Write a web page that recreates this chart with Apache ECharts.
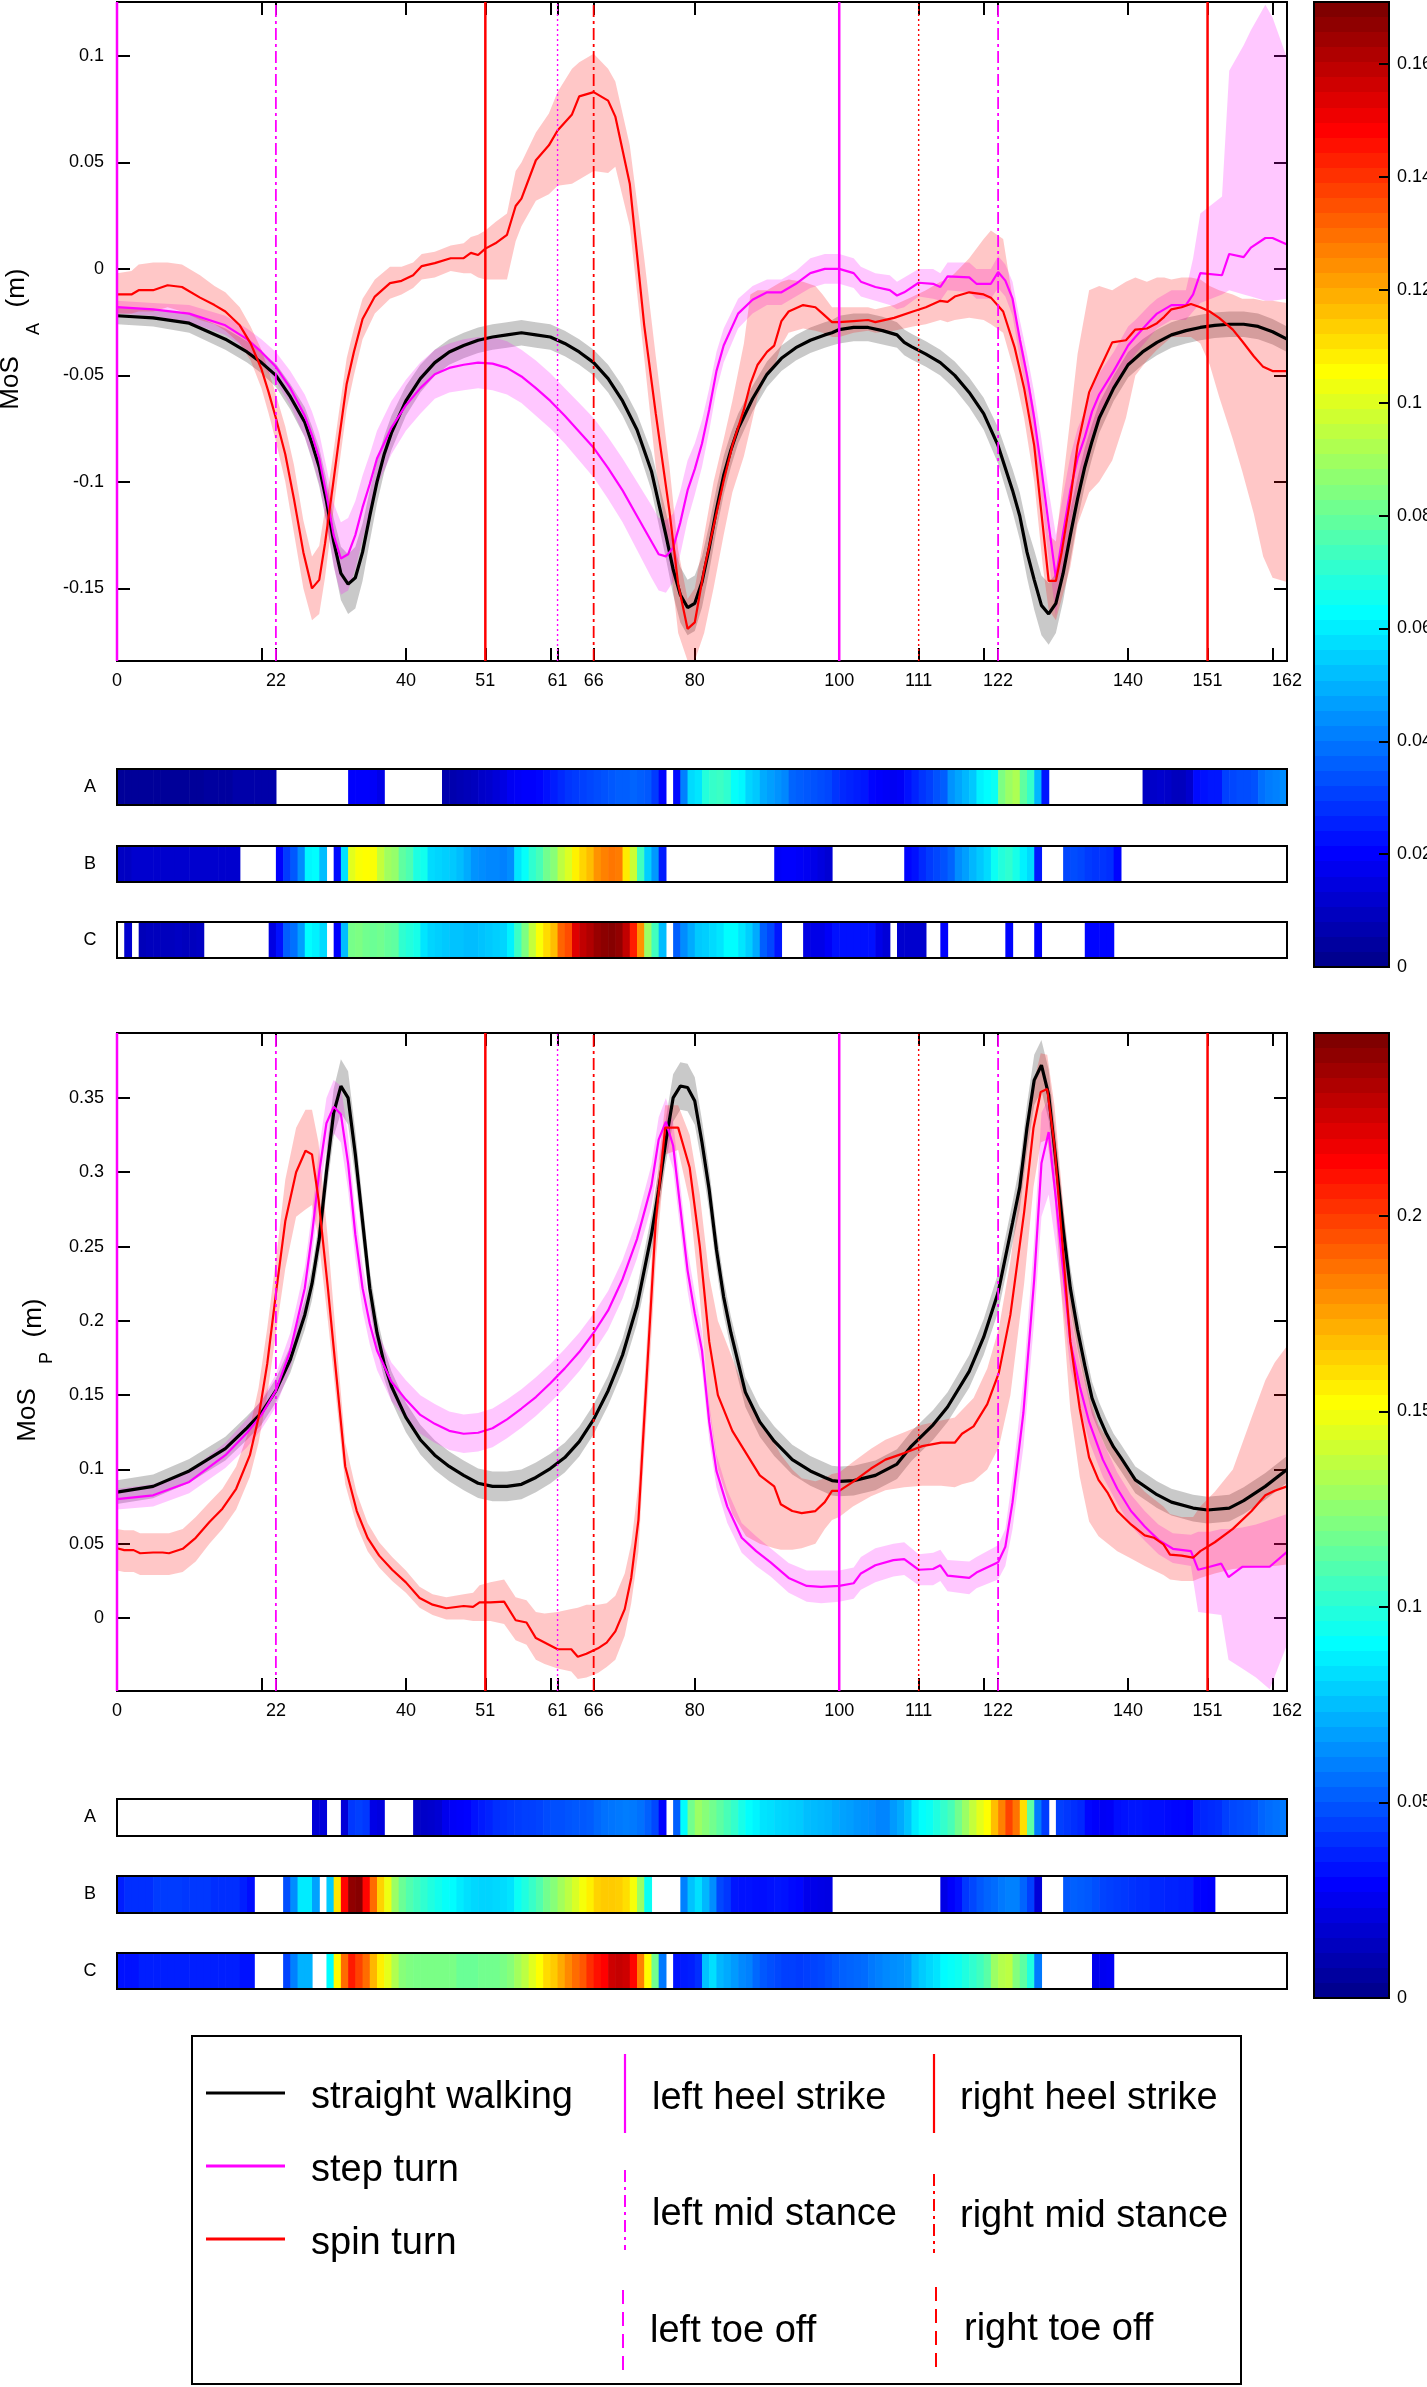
<!DOCTYPE html>
<html>
<head>
<meta charset="utf-8">
<script src="https://cdn.jsdelivr.net/npm/echarts@6/dist/echarts.min.js"></script>
<style>html,body{margin:0;padding:0;background:#fff}#c{width:1427px;height:2387px}</style>
</head>
<body>
<div id="c"></div>
<script>
// ---------------- DATA ----------------
const seriesNames = ['straight walking', 'step turn', 'spin turn'];
const eventNames = ['left heel strike', 'left mid stance', 'left toe off', 'right heel strike', 'right mid stance', 'right toe off'];
const xLabelVals = [0, 22, 40, 51, 61, 66, 80, 100, 111, 122, 140, 151, 162];
const xTickVals = [0, 20, 22, 40, 51, 60, 61, 66, 80, 100, 111, 120, 122, 140, 151, 160, 162];
const topYTicks = [-0.15, -0.1, -0.05, 0, 0.05, 0.1];
const botYTicks = [0, 0.05, 0.1, 0.15, 0.2, 0.25, 0.3, 0.35];
const topCbTicks = [0, 0.02, 0.04, 0.06, 0.08, 0.1, 0.12, 0.14, 0.16];
const botCbTicks = [0, 0.05, 0.1, 0.15, 0.2];
const stripLabels = ['A', 'B', 'C'];

// gait events
const eventX = [0, 22, 51, 61, 66, 100, 111, 122, 151];
const eventSide = ['left', 'left', 'right', 'left', 'right', 'left', 'right', 'left', 'right'];
const eventPhase = ['heel', 'mid', 'heel', 'toe', 'mid', 'heel', 'toe', 'mid', 'heel'];

// ---- MoS_A (top) ----
const topBlackX = [0,5,10,15,18,20,22,24,26,27,28,29,30,31,32,33,34,35,36,37,38,40,42,44,46,48,50,52,54,56,58,60,62,64,66,68,70,72,74,76,77,78,79,80,81,82,83,84,85,86,88,90,92,94,96,98,99,100,102,104,106,108,109,110,112,114,116,118,120,122,124,125,126,127,128,129,130,131,132,133,134,135,136,138,140,142,144,146,148,150,152,154,156,158,160,162];
const topBlackMean = [-0.022,-0.023,-0.0255,-0.033,-0.039,-0.044,-0.050,-0.060,-0.072,
 -0.082,-0.093,-0.109,-0.128,-0.143,-0.148,-0.145,-0.133,-0.116,-0.100,-0.087,-0.077,
 -0.062,-0.0515,-0.044,-0.039,-0.036,-0.0335,-0.032,-0.031,-0.030,-0.031,-0.032,-0.035,-0.039,-0.044,-0.0515,-0.062,-0.0755,-0.095,
 -0.125,-0.141,-0.153,-0.159,-0.157,-0.147,-0.131,-0.113,-0.097,-0.085,-0.075,
 -0.061,-0.0495,-0.042,-0.037,-0.0335,-0.031,-0.030,
 -0.0285,-0.0275,-0.0275,-0.029,-0.031,-0.0345,
 -0.0365,-0.040,-0.044,-0.050,-0.058,-0.068,-0.083,-0.104,
 -0.116,-0.133,-0.146,-0.158,-0.162,-0.157,-0.143,-0.125,-0.108,-0.093,-0.081,-0.070,
 -0.056,-0.045,-0.039,-0.0345,-0.031,-0.029,-0.0275,-0.0265,-0.026,-0.026,-0.027,-0.0295,-0.033];
const topBlackSd = [0.004,0.004,0.0045,0.005,0.005,0.005,0.0055,0.006,0.007,
 0.008,0.009,0.010,0.011,0.0125,0.014,0.0145,0.0135,0.012,0.010,0.0085,0.008,
 0.007,0.0065,0.006,0.006,0.006,0.006,0.006,0.006,0.006,0.006,0.006,0.006,0.006,0.006,0.0065,0.007,0.0075,0.009,
 0.011,0.012,0.013,0.013,0.013,0.012,0.011,0.010,0.009,0.008,0.007,
 0.006,0.006,0.006,0.006,0.006,0.006,0.006,
 0.0065,0.0065,0.0065,0.0065,0.006,0.006,
 0.006,0.006,0.006,0.0065,0.007,0.0075,0.0085,0.010,
 0.011,0.012,0.014,0.014,0.0145,0.014,0.013,0.012,0.010,0.009,0.008,0.007,
 0.006,0.006,0.006,0.006,0.006,0.006,0.006,0.006,0.006,0.006,0.006,0.006,0.006];

const topStepX = [0,5,10,15,18,20,22,24,26,27,28,29,30,31,32,33,34,35,36,38,40,42,44,46,48,50,52,54,56,58,60,62,64,66,68,70,72,74,75,76,77,78,79,80,81,82,83,84,86,88,90,92,94,96,98,100,102,103,105,107,108,109,111,113,114,115,118,119,121,122,123,124,125,126,127,128,129,130,131,132,133,134,135,136,138,140,141,143,144,146,148,149,150,153,154,156,157,159,160,162];
const topStepMean = [-0.018,-0.019,-0.021,-0.0265,-0.033,-0.039,-0.046,-0.056,-0.069,
 -0.078,-0.089,-0.106,-0.125,-0.136,-0.134,-0.125,-0.112,-0.101,-0.089,
 -0.0745,-0.064,-0.056,-0.0495,-0.0465,-0.045,-0.044,-0.0445,-0.0465,-0.0505,-0.056,-0.062,-0.069,-0.0765,-0.084,-0.0935,-0.104,-0.116,-0.128,
 -0.134,-0.135,-0.131,-0.119,-0.104,-0.094,-0.082,-0.066,-0.048,-0.036,
 -0.021,-0.0145,-0.011,-0.011,-0.007,-0.002,0.0,0.0,
 -0.002,-0.006,-0.0085,-0.010,-0.0125,-0.011,-0.0065,-0.007,-0.0085,-0.0035,
 -0.004,-0.007,-0.007,-0.0015,-0.0055,-0.014,-0.033,-0.050,-0.070,-0.094,
 -0.120,-0.145,-0.124,-0.104,-0.089,-0.079,-0.067,-0.059,-0.048,-0.036,
 -0.032,-0.0245,-0.021,-0.017,-0.017,-0.012,-0.002,-0.003,0.007,0.0055,
 0.010,0.0145,0.0145,0.0115];
const topStepLo = [-0.021,-0.022,-0.025,-0.031,-0.038,-0.045,-0.053,-0.064,-0.079,
 -0.089,-0.101,-0.119,-0.140,-0.153,-0.151,-0.141,-0.127,-0.115,-0.102,
 -0.087,-0.076,-0.068,-0.061,-0.058,-0.057,-0.056,-0.057,-0.059,-0.063,-0.069,-0.075,-0.082,-0.090,-0.098,-0.108,-0.119,-0.132,-0.145,
 -0.151,-0.152,-0.147,-0.134,-0.118,-0.106,-0.093,-0.076,-0.057,-0.044,
 -0.028,-0.021,-0.017,-0.017,-0.013,-0.009,-0.007,-0.007,
 -0.009,-0.013,-0.015,-0.017,-0.019,-0.018,-0.013,-0.014,-0.015,-0.010,
 -0.011,-0.014,-0.014,-0.009,-0.013,-0.022,-0.042,-0.060,-0.082,-0.108,
 -0.136,-0.163,-0.142,-0.120,-0.103,-0.091,-0.078,-0.069,-0.057,-0.045,
 -0.040,-0.032,-0.028,-0.024,-0.024,-0.020,-0.016,-0.012,-0.010,-0.012,
 -0.013,-0.015,-0.015,-0.014];
const topStepHi = [-0.015,-0.016,-0.017,-0.022,-0.028,-0.033,-0.039,-0.048,-0.059,
 -0.067,-0.077,-0.093,-0.110,-0.119,-0.117,-0.109,-0.097,-0.087,-0.076,
 -0.062,-0.052,-0.044,-0.038,-0.035,-0.033,-0.032,-0.032,-0.034,-0.038,-0.043,-0.049,-0.056,-0.063,-0.070,-0.079,-0.089,-0.100,-0.111,
 -0.117,-0.118,-0.115,-0.104,-0.090,-0.082,-0.071,-0.056,-0.039,-0.028,
 -0.014,-0.008,-0.005,-0.005,-0.001,0.005,0.007,0.007,
 0.005,0.001,-0.002,-0.003,-0.006,-0.004,0.000,0.000,-0.002,0.003,
 0.003,0.000,0.000,0.006,0.002,-0.006,-0.024,-0.040,-0.058,-0.080,
 -0.104,-0.125,-0.106,-0.088,-0.075,-0.067,-0.056,-0.049,-0.039,-0.027,
 -0.024,-0.017,-0.014,-0.010,-0.010,0.005,0.026,0.034,0.093,0.105,
 0.112,0.124,0.118,0.099];

const topSpinX = [0,2,3,5,7,9,11.5,13.5,15,17,18.5,20,21,22,23.3,24.5,25.8,27,28,28.8,29.8,30.7,31.8,32.8,34,35.7,37.8,39.4,41,42.2,44,46.2,48,49,50,51,52.4,54,55.2,56,58,59.8,61,63,64,66,68,69,71,73,74.6,76.5,77.7,79,80,81.3,82.6,84,85.2,86.8,87.7,88.7,90,91,92,93,95,96.7,97.7,99,100,102,104,105,107.6,110.2,112,114,115,116,118,120,121,122.7,124.3,125.6,127,128.2,129,130,130.8,132,133,134.6,136,137.8,139.7,141,142.6,144,145,146,147.4,148.7,150,151.3,152.6,154.5,155.8,157.4,158.7,160,162];
const topSpinMean = [-0.012,-0.012,-0.010,-0.010,-0.0077,-0.0085,
 -0.0135,-0.017,-0.020,-0.0265,-0.035,-0.047,-0.058,-0.070,
 -0.087,-0.108,-0.133,-0.150,-0.146,-0.129,-0.104,-0.081,-0.054,-0.039,
 -0.0235,-0.013,-0.0067,-0.0056,-0.003,0.0013,0.0027,0.005,0.005,0.0075,
 0.0065,0.0095,0.012,0.016,0.0295,0.033,0.051,0.058,0.065,0.0725,
 0.081,0.083,0.079,0.0715,0.040,-0.0265,-0.068,-0.114,-0.148,-0.169,
 -0.166,-0.141,-0.121,-0.0995,-0.083,-0.066,-0.054,-0.045,-0.039,-0.036,
 -0.0245,-0.020,-0.017,-0.018,-0.021,-0.025,-0.025,-0.0245,-0.024,-0.025,
 -0.023,-0.020,-0.018,-0.015,-0.0155,-0.013,-0.011,-0.012,-0.0135,-0.020,
 -0.037,-0.056,-0.083,-0.121,-0.1465,-0.1465,-0.133,-0.108,-0.083,-0.058,
 -0.0475,-0.0345,-0.0335,-0.0285,-0.028,-0.0255,-0.0225,-0.019,-0.018,-0.0165,
 -0.018,-0.020,-0.023,-0.0285,-0.034,-0.041,-0.046,-0.048,-0.048];
const topSpinLo = [-0.021,-0.021,-0.020,-0.020,-0.018,-0.020,
 -0.024,-0.026,-0.029,-0.035,-0.043,-0.056,-0.068,-0.081,
 -0.100,-0.124,-0.150,-0.165,-0.162,-0.145,-0.118,-0.094,-0.066,-0.050,
 -0.033,-0.021,-0.014,-0.012,-0.009,-0.005,-0.004,-0.001,-0.002,-0.002,
 -0.004,-0.005,-0.005,-0.005,0.013,0.020,0.032,0.035,0.039,0.040,
 0.042,0.046,0.045,0.048,0.020,-0.042,-0.093,-0.135,-0.171,-0.184,
 -0.184,-0.171,-0.150,-0.125,-0.105,-0.088,-0.075,-0.060,-0.050,-0.046,
 -0.036,-0.030,-0.028,-0.029,-0.030,-0.032,-0.032,-0.030,-0.029,-0.030,
 -0.029,-0.027,-0.026,-0.024,-0.025,-0.024,-0.023,-0.024,-0.026,-0.030,
 -0.049,-0.070,-0.100,-0.140,-0.160,-0.165,-0.155,-0.140,-0.120,-0.105,
 -0.100,-0.090,-0.070,-0.050,-0.043,-0.038,-0.035,-0.032,-0.032,-0.032,
 -0.035,-0.045,-0.060,-0.080,-0.095,-0.115,-0.135,-0.145,-0.147];
const topSpinHi = [-0.002,-0.001,0.002,0.003,0.003,0.002,
 -0.003,-0.008,-0.011,-0.018,-0.027,-0.038,-0.048,-0.059,
 -0.074,-0.092,-0.118,-0.135,-0.130,-0.113,-0.090,-0.068,-0.042,-0.028,
 -0.014,-0.005,0.001,0.001,0.003,0.007,0.008,0.011,0.012,0.015,
 0.016,0.018,0.022,0.026,0.046,0.050,0.064,0.073,0.083,0.094,
 0.097,0.101,0.094,0.088,0.058,0.005,-0.041,-0.093,-0.132,-0.155,
 -0.150,-0.125,-0.100,-0.080,-0.062,-0.035,-0.012,-0.010,-0.010,-0.008,
 -0.006,-0.005,-0.006,-0.008,-0.012,-0.018,-0.018,-0.018,-0.018,-0.019,
 -0.017,-0.013,-0.010,-0.006,-0.005,-0.002,0.005,0.014,0.018,0.014,
 -0.020,-0.040,-0.066,-0.102,-0.125,-0.128,-0.105,-0.070,-0.040,-0.010,
 -0.008,-0.010,-0.006,-0.004,-0.006,-0.004,-0.004,-0.005,-0.004,-0.004,
 -0.005,-0.008,-0.010,-0.012,-0.014,-0.014,-0.015,-0.015,-0.016];

// ---- MoS_P (bottom) ----
const botBlackX = [0,5,10,15,18,20,22,24,26,27,28,29,30,31,32,33,34,35,36,37,38,40,42,44,46,48,50,52,54,56,58,60,62,64,66,68,70,72,74,75,76,77,78,79,80,81,82,83,84,85,86,87,89,91,93.5,96,98,99,100,102,105,108,110,113,115,118,120,122,124,125,126,127,128,129,130,131,132,133,134,135,136,137,138,139,141,144,146,149,151,154,156,159,162];
const botBlackMean = [0.0847,0.0886,0.099,0.114,0.128,0.138,0.153,0.174,0.204,
 0.225,0.255,0.300,0.340,0.358,0.350,0.312,0.267,0.222,0.192,0.171,0.156,
 0.135,0.120,0.1096,0.102,0.096,0.0907,0.0886,0.0886,0.090,0.0946,0.1006,0.108,0.1187,0.1337,0.153,0.177,0.210,0.258,
 0.288,0.321,0.350,0.358,0.357,0.348,0.320,0.288,0.248,0.216,0.192,0.172,0.152,
 0.132,0.119,0.1066,0.099,0.0946,0.0925,0.092,0.0925,0.096,0.1036,
 0.1157,0.130,0.142,0.166,0.189,0.219,0.266,
 0.290,0.330,0.362,0.372,0.352,0.308,0.262,0.222,0.194,0.170,0.148,0.135,0.124,0.115,0.108,
 0.093,0.083,0.078,0.074,0.0727,0.074,0.079,0.0886,0.100];
const botBlackSd = [0.008,0.008,0.008,0.008,0.008,0.008,0.008,0.009,0.010,
 0.011,0.012,0.014,0.016,0.018,0.018,0.016,0.014,0.012,0.011,0.010,0.010,
 0.010,0.010,0.010,0.010,0.010,0.010,0.010,0.010,0.010,0.010,0.010,0.010,0.010,0.010,0.010,0.011,0.012,0.013,
 0.014,0.015,0.016,0.016,0.016,0.016,0.015,0.014,0.013,0.012,0.011,0.011,0.010,
 0.010,0.010,0.010,0.010,0.010,0.010,0.010,0.010,0.010,0.010,
 0.010,0.010,0.010,0.011,0.012,0.013,0.014,
 0.015,0.016,0.017,0.017,0.017,0.016,0.015,0.014,0.013,0.012,0.011,0.010,0.010,0.009,0.009,
 0.009,0.009,0.009,0.009,0.009,0.009,0.009,0.009,0.009];

const botStepX = [0,5,10,15,18,20,22,24,26,27,28,29,30,31,32,33,34,35,36,38,40,42,44,46,48,50,52,54,56,58,60,62,64,66,68,70,72,74,75,76,77,78,79,80,81,82,83,84.5,86.5,88.5,90.5,93,95.5,97.5,100,102,103,105,107.5,109,111,113,114,115,118,119,122,123,124,125.5,127,128,129,130,131,132,133.3,134.6,136.5,138.5,140.4,142.3,144.2,146.2,148.7,149.7,151.3,152.9,153.9,155.8,157.7,159.6,162];
const botStepMean = [0.080,0.0826,0.0916,0.1096,0.1247,0.1367,0.153,0.180,0.222,
 0.258,0.300,0.333,0.344,0.339,0.306,0.258,0.222,0.198,0.180,
 0.159,0.147,0.1367,0.1307,0.126,0.124,0.1247,0.1277,0.1337,0.141,0.1487,0.158,0.168,0.179,0.192,0.207,0.228,0.255,0.291,
 0.322,0.334,0.318,0.276,0.234,0.205,0.180,0.132,0.099,
 0.075,0.054,0.045,0.0375,0.027,0.0216,0.021,0.0216,
 0.0234,0.030,0.0355,0.039,0.0397,0.0325,0.033,0.0355,0.0285,0.027,
 0.0306,0.0375,0.048,0.078,0.138,0.228,0.306,0.327,0.282,0.234,
 0.186,0.156,0.132,0.1066,0.087,0.072,0.0616,0.0526,0.0466,0.045,
 0.0325,0.0345,0.0366,0.0276,0.0345,0.0345,0.0345,0.0445];
const botStepLo = [0.073,0.075,0.084,0.101,0.115,0.127,0.142,0.168,0.208,
 0.243,0.284,0.316,0.326,0.320,0.288,0.242,0.207,0.184,0.167,
 0.146,0.134,0.124,0.118,0.113,0.111,0.112,0.115,0.121,0.128,0.136,0.145,0.155,0.166,0.179,0.194,0.215,0.242,0.277,
 0.307,0.318,0.302,0.261,0.220,0.192,0.167,0.120,0.088,
 0.064,0.044,0.035,0.028,0.017,0.011,0.010,0.011,
 0.013,0.019,0.024,0.028,0.029,0.022,0.022,0.025,0.018,0.016,
 0.020,0.026,0.035,0.060,0.115,0.200,0.270,0.285,0.250,0.210,
 0.168,0.142,0.119,0.095,0.077,0.062,0.052,0.043,0.037,0.035,
 0.004,0.003,0.002,-0.028,-0.034,-0.040,-0.048,-0.018];
const botStepHi = [0.087,0.090,0.099,0.118,0.134,0.147,0.164,0.192,0.236,
 0.273,0.316,0.350,0.362,0.358,0.324,0.274,0.237,0.212,0.193,
 0.172,0.160,0.150,0.144,0.139,0.137,0.138,0.141,0.147,0.154,0.162,0.171,0.181,0.192,0.205,0.220,0.241,0.268,0.305,
 0.337,0.350,0.334,0.291,0.248,0.219,0.193,0.144,0.110,
 0.086,0.064,0.055,0.047,0.037,0.032,0.032,0.032,
 0.034,0.041,0.047,0.050,0.051,0.043,0.044,0.046,0.039,0.038,
 0.041,0.049,0.060,0.095,0.160,0.255,0.340,0.350,0.310,0.258,
 0.205,0.171,0.146,0.119,0.098,0.083,0.072,0.063,0.057,0.056,
 0.058,0.058,0.060,0.060,0.061,0.063,0.066,0.070];

const botSpinX = [0,1,2.3,3.2,5,6.3,7.2,9.1,10.9,12.8,14.6,16.5,18.4,19.6,20.8,22.1,23.3,24.8,26.1,27,27.9,29.2,30.4,31.6,33.2,34.7,36.3,38.1,40,41.9,43.7,45.6,48,49.3,50.2,51.7,53.6,55.2,56.7,58,59.2,61,62.9,63.8,65,66.6,67.8,69,70.3,71.2,72.2,72.8,73.7,74.6,75.9,77.7,79.3,80.7,82,83.2,85.2,87.1,89,91,91.9,93.5,94.8,96.7,98,99,100,101.9,104.4,106.4,109,111.5,114.1,116,117,118.6,120.5,122.1,123.7,125.6,126.9,127.9,128.8,129.8,130.8,132,133.3,134.6,135.9,137.2,138.5,140.4,142.3,143.6,144.9,145.8,147.4,149,150,152,154.5,157.1,159,160.3,162];
const botSpinMean = [0.047,0.0457,0.0457,0.0436,0.0441,0.0441,0.0436,0.0466,0.054,0.0646,
 0.0736,0.087,0.1096,0.135,0.171,0.222,0.267,0.300,0.3145,0.312,
 0.282,0.222,0.162,0.102,0.072,0.054,0.042,0.0325,0.024,0.0135,
 0.009,0.0066,0.0081,0.0075,0.0105,0.0105,0.011,-0.0015,-0.003,-0.0135,
 -0.0165,-0.021,-0.021,-0.026,-0.024,-0.0204,-0.0165,-0.009,0.006,0.027,
 0.066,0.117,0.192,0.267,0.330,0.330,0.303,0.250,0.186,0.150,
 0.126,0.111,0.096,0.0886,0.0766,0.072,0.0706,0.072,0.078,0.0856,
 0.0856,0.0916,0.1006,0.1066,0.111,0.1157,0.118,0.118,0.124,0.129,
 0.144,0.165,0.204,0.273,0.330,0.354,0.356,0.318,0.258,0.186,
 0.141,0.108,0.093,0.084,0.072,0.063,0.0556,0.054,0.0496,0.0427,
 0.042,0.0406,0.045,0.051,0.060,0.072,0.0826,0.0856,0.0886];
const botSpinLo = [0.032,0.031,0.031,0.029,0.029,0.029,0.029,0.031,0.038,0.050,
 0.060,0.073,0.095,0.118,0.150,0.195,0.235,0.270,0.275,0.278,
 0.255,0.200,0.145,0.090,0.062,0.045,0.034,0.025,0.017,0.007,
 0.002,-0.001,-0.001,-0.002,-0.002,-0.002,-0.004,-0.015,-0.018,-0.028,
 -0.031,-0.034,-0.036,-0.041,-0.040,-0.037,-0.033,-0.028,-0.012,0.010,
 0.045,0.095,0.165,0.240,0.312,0.315,0.280,0.215,0.140,0.100,
 0.070,0.055,0.050,0.047,0.046,0.046,0.047,0.050,0.060,0.066,
 0.068,0.075,0.082,0.086,0.088,0.089,0.089,0.088,0.090,0.092,
 0.100,0.115,0.150,0.225,0.290,0.320,0.322,0.285,0.215,0.140,
 0.095,0.065,0.055,0.050,0.045,0.040,0.035,0.032,0.029,0.026,
 0.025,0.025,0.027,0.030,0.033,0.034,0.035,0.035,0.036];
const botSpinHi = [0.060,0.059,0.059,0.057,0.057,0.057,0.057,0.060,0.068,0.078,
 0.087,0.102,0.128,0.155,0.195,0.245,0.295,0.330,0.342,0.342,
 0.320,0.255,0.185,0.118,0.084,0.064,0.051,0.041,0.032,0.021,
 0.016,0.014,0.016,0.017,0.022,0.024,0.026,0.014,0.012,0.004,
 0.003,0.004,0.006,0.007,0.009,0.009,0.010,0.015,0.030,0.050,
 0.090,0.140,0.215,0.290,0.345,0.345,0.325,0.285,0.230,0.200,
 0.175,0.150,0.130,0.118,0.110,0.100,0.094,0.092,0.094,0.097,
 0.098,0.105,0.114,0.120,0.125,0.130,0.133,0.135,0.140,0.148,
 0.168,0.195,0.240,0.310,0.360,0.380,0.379,0.345,0.290,0.225,
 0.180,0.150,0.130,0.120,0.110,0.095,0.085,0.080,0.075,0.070,
 0.068,0.068,0.075,0.085,0.100,0.135,0.160,0.172,0.183];

// ---- difference strips (cells 0..161), null = not significant ----
const N = null;
const topStripA = [0.002,0.002,0.002,0.002,0.002,0.002,0.002,0.002,0.002,0.002,0.002,0.002,0.003,0.003,0.003,0.003,
 0.005,0.005,0.005,0.005,0.005,0.005,
 N,N,N,N,N,N,N,N,N,N,
 0.021,0.021,0.021,0.02,0.017,
 N,N,N,N,N,N,N,N,
 0.006,0.006,0.007,0.008,0.009,0.011,0.012,0.014,0.016,
 0.019,0.02,0.021,0.021,0.022,
 0.024,0.026,0.028,0.03,0.031,0.032,0.033,0.034,0.035,
 0.036,0.037,0.037,0.038,0.037,0.036,
 0.031,0.022,
 N,
 0.023,0.043,0.058,0.06,
 0.07,0.073,0.074,0.072,
 0.065,0.063,
 0.057,0.055,
 0.05,0.048,0.046,0.044,
 0.038,0.037,0.036,0.035,0.034,0.033,
 0.03,0.028,0.027,0.026,0.025,
 0.022,0.021,0.02,0.019,0.02,
 0.024,0.027,0.03,0.032,0.035,0.037,
 0.046,0.049,0.052,0.055,
 0.062,0.064,0.066,
 0.085,0.09,0.093,
 0.08,0.073,0.052,0.025,
 N,N,N,N,N,N,N,N,N,N,N,N,N,
 0.01,0.011,0.012,0.011,0.009,0.009,0.012,
 0.023,0.024,0.025,0.025,
 0.032,0.033,0.034,0.034,0.035,
 0.04,0.042,0.043,0.045];
const topStripB = [0.01,0.01,0.012,0.012,0.012,0.012,0.012,0.012,0.012,0.012,0.012,0.012,0.012,0.012,0.012,0.012,0.012,
 N,N,N,N,N,
 0.021,0.031,0.036,0.045,0.063,0.064,0.053,
 N,
 0.023,0.059,0.102,0.106,0.107,0.106,0.097,0.091,0.089,0.08,0.077,0.069,0.067,
 0.058,0.057,0.056,0.055,0.053,0.05,0.046,0.045,0.044,0.044,0.043,0.045,
 0.06,0.065,0.072,0.076,0.083,0.087,0.096,0.101,0.109,0.114,0.118,0.125,0.128,0.13,0.129,
 0.11,0.098,0.075,0.056,0.047,0.026,
 N,N,N,N,N,N,N,N,N,N,N,N,N,N,N,
 0.02,0.021,0.021,0.02,0.019,0.017,0.015,0.013,
 N,N,N,N,N,N,N,N,N,N,
 0.022,0.024,0.028,0.031,0.033,0.035,0.038,0.045,0.048,0.052,0.055,0.058,0.066,0.07,0.072,0.068,0.062,0.058,0.025,
 N,N,N,
 0.033,0.034,0.033,0.031,0.03,0.03,0.029,0.022,
 N,N,N,N,N,N,N,N,N,N,N,N,N,N,N,N,N,N,N,N,N,N,N];
const topStripC = [N,0.012,N,
 0.008,0.009,0.009,0.009,0.009,0.01,0.009,0.009,0.01,
 N,N,N,N,N,N,N,N,N,
 0.016,0.024,0.037,0.04,0.048,0.064,0.062,0.058,
 N,
 0.021,0.053,
 0.084,0.085,0.083,0.082,0.083,0.081,0.08,
 0.072,0.07,0.068,0.06,
 0.057,0.056,0.055,0.054,0.054,0.053,0.053,0.054,0.055,0.056,0.057,
 0.062,0.074,0.085,0.097,0.106,0.113,0.118,0.133,0.137,0.155,0.16,0.163,0.167,0.169,0.17,0.168,0.16,0.145,0.125,0.09,0.075,0.053,
 N,
 0.037,0.045,0.05,0.055,0.056,0.058,0.06,0.064,0.064,0.06,0.056,0.05,0.037,0.033,0.025,
 N,N,N,
 0.016,0.017,0.017,0.02,0.024,0.024,0.024,0.024,0.024,0.024,0.017,0.014,
 N,
 0.012,0.012,0.012,0.012,
 N,N,
 0.021,
 N,N,N,N,N,N,N,N,
 0.022,
 N,N,N,
 0.021,
 N,N,N,N,N,N,
 0.022,0.022,0.022,0.022,
 N,N,N,N,N,N,N,N,N,N,N,N,N,N,N,N,N,N,N,N,N,N,N,N];
const botStripA = [N,N,N,N,N,N,N,N,N,N,N,N,N,N,N,N,N,N,N,N,N,N,N,N,N,N,N,
 0.02,0.021,
 N,N,
 0.02,0.044,0.046,0.044,0.024,0.022,
 N,N,N,N,
 0.015,0.016,0.017,0.019,0.026,0.029,0.03,0.031,0.035,0.037,0.039,
 0.042,0.043,0.044,0.045,0.046,0.046,0.047,0.049,0.05,0.05,0.051,0.052,0.052,0.053,
 0.056,0.058,0.059,0.06,0.061,0.06,0.058,0.054,0.048,0.031,
 N,
 0.054,0.092,0.12,0.13,0.125,0.12,0.115,0.11,0.105,0.098,0.093,0.09,
 0.086,0.085,0.083,0.082,0.081,0.08,0.077,0.076,0.075,0.074,
 0.072,0.07,0.069,0.067,0.066,0.065,0.063,0.063,0.068,0.072,0.078,
 0.088,0.093,0.095,0.1,0.105,0.11,0.12,0.13,0.14,0.148,0.154,0.17,0.185,0.2,0.188,0.162,0.115,0.06,0.045,
 N,
 0.046,0.044,0.042,0.04,0.032,0.03,0.028,0.029,
 0.034,0.035,0.036,0.036,0.035,0.034,0.034,0.033,0.032,0.032,0.031,
 0.038,0.04,0.041,0.042,0.046,0.048,0.049,0.05,0.051,0.055,0.057,0.058,0.06];
const botStripB = [0.038,0.042,0.042,0.042,0.042,0.045,0.045,0.045,0.045,0.044,0.044,0.044,0.044,0.042,0.042,0.042,0.042,0.038,0.034,
 N,N,N,N,
 0.05,0.065,0.088,0.088,0.07,
 N,
 0.08,0.16,0.215,0.243,0.245,0.215,0.19,0.165,0.15,0.13,
 0.118,0.112,0.108,0.104,0.1,0.097,0.094,0.092,
 0.088,0.085,0.083,0.082,0.082,0.083,0.084,0.086,
 0.095,0.1,0.106,0.112,0.12,0.125,0.132,0.138,0.145,
 0.152,0.158,0.165,0.167,0.167,0.166,0.162,0.152,0.13,0.095,
 N,N,N,N,
 0.062,0.078,0.085,0.075,0.065,0.048,0.044,0.036,0.035,0.035,0.034,0.034,0.035,0.036,0.035,0.033,0.032,0.026,0.025,0.024,0.023,
 N,N,N,N,N,N,N,N,N,N,N,N,N,N,N,
 0.024,0.03,0.034,0.044,0.048,0.052,0.055,0.057,0.06,0.062,0.062,0.055,0.046,0.02,
 N,N,N,
 0.052,0.054,0.053,0.052,0.05,0.047,0.046,0.045,0.044,0.043,0.042,0.042,
 0.04,0.04,0.039,0.039,0.038,0.038,0.032,0.031,0.03,
 N,N,N,N,N,N,N,N,N,N];
const botStripC = [0.035,0.035,0.035,0.038,0.038,0.038,0.038,0.038,0.038,0.038,0.038,0.038,0.038,0.038,0.038,0.038,0.038,0.035,0.035,
 N,N,N,N,
 0.047,0.062,0.074,0.074,
 N,N,
 0.092,0.155,0.19,0.21,0.2,0.19,0.172,0.158,0.148,0.135,
 0.125,0.123,0.122,0.122,0.122,0.122,0.122,0.122,0.118,0.118,0.118,0.12,0.12,0.12,0.122,0.125,
 0.132,0.138,0.147,0.154,0.163,0.167,0.175,0.183,0.19,0.195,0.205,0.212,0.216,0.228,0.23,0.228,0.215,0.185,0.155,0.12,0.06,
 N,
 0.035,0.037,0.038,0.042,0.078,0.085,0.075,0.072,0.068,0.064,0.062,
 0.056,0.052,0.05,0.048,0.046,0.046,0.045,0.046,0.047,0.048,0.05,
 0.052,0.054,0.055,0.056,0.057,0.06,0.062,0.064,0.065,0.066,0.068,
 0.076,0.08,0.083,0.086,0.092,0.094,0.096,0.1,0.104,0.108,0.114,
 0.13,0.136,0.138,0.124,0.115,0.1,0.06,
 N,N,N,N,N,N,N,
 0.026,0.027,0.028,
 N,N,N,N,N,N,N,N,N,N,N,N,N,N,N,N,N,N,N,N,N,N,N,N];

// ---------------- CHECKS ----------------
function check(name, a, n) { if (a.length !== n) throw new Error(name + ' has ' + a.length + ' expected ' + n); }
check('topBlackMean', topBlackMean, topBlackX.length); check('topBlackSd', topBlackSd, topBlackX.length);
check('topStepMean', topStepMean, topStepX.length); check('topStepLo', topStepLo, topStepX.length); check('topStepHi', topStepHi, topStepX.length);
check('topSpinMean', topSpinMean, topSpinX.length); check('topSpinLo', topSpinLo, topSpinX.length); check('topSpinHi', topSpinHi, topSpinX.length);
check('botBlackMean', botBlackMean, botBlackX.length); check('botBlackSd', botBlackSd, botBlackX.length);
check('botStepMean', botStepMean, botStepX.length); check('botStepLo', botStepLo, botStepX.length); check('botStepHi', botStepHi, botStepX.length);
check('botSpinMean', botSpinMean, botSpinX.length); check('botSpinLo', botSpinLo, botSpinX.length); check('botSpinHi', botSpinHi, botSpinX.length);
[['topStripA', topStripA], ['topStripB', topStripB], ['topStripC', topStripC], ['botStripA', botStripA], ['botStripB', botStripB], ['botStripC', botStripC]].forEach(p => check(p[0], p[1], 162));

// ---------------- BUILD ----------------
const FONT = '"Liberation Sans", Arial, Helvetica, sans-serif';
const TOP_Y = [-0.1841, 0.1253];
const BOT_Y = [-0.0491, 0.3937];
const TOP_CB_MAX = 0.171, BOT_CB_MAX = 0.2468;
const jet = ['#00008f', '#0000ff', '#0080ff', '#00ffff', '#80ff80', '#ffff00', '#ff8000', '#ff0000', '#800000'];
// MATLAB-like 64-level banded colour bar
function jetRGB(t) {
  const c = v => Math.round(255 * Math.max(0, Math.min(1, v)));
  return 'rgb(' + c(1.5 - Math.abs(4 * t - 3)) + ',' + c(1.5 - Math.abs(4 * t - 2)) + ',' + c(1.5 - Math.abs(4 * t - 1)) + ')';
}
const cbStops = [];
for (let k = 0; k < 64; k++) { const col = jetRGB((k + 1) / 64); cbStops.push({ offset: k / 64, color: col }); cbStops.push({ offset: (k + 1) / 64, color: col }); }
const COL = { black: '#000000', step: '#ff00ff', spin: '#ff0000' };
const BAND = { black: 'rgba(0,0,0,0.21)', step: 'rgba(255,0,255,0.22)', spin: 'rgba(255,0,0,0.22)' };

const grids = [], xAxes = [], yAxes = [], series = [], graphics = [];
const tickStyle = { color: '#000', width: 2 };
const labelStyle = { fontSize: 18, fontFamily: FONT, color: '#000' };

function addPlot(top, height, yr, yTicks) {
  const g = grids.length;
  grids.push({ left: 117, top: top, width: 1170, height: height, show: true, borderColor: '#000', borderWidth: 2, backgroundColor: 'transparent', z: 5, outerBoundsMode: 'none', containLabel: false });
  const xi = xAxes.length;
  const xBase = { gridIndex: g, type: 'value', min: 0, max: 162, axisLine: { show: false, onZero: false }, splitLine: { show: false },
    axisTick: { show: true, inside: true, length: 13, customValues: xTickVals, lineStyle: tickStyle } };
  xAxes.push(Object.assign({}, xBase, { position: 'bottom', axisLabel: Object.assign({ show: true, customValues: xLabelVals, margin: 11, formatter: v => String(v) }, labelStyle) }));
  xAxes.push(Object.assign({}, xBase, { position: 'top', axisLabel: { show: false } }));
  const yi = yAxes.length;
  const yBase = { gridIndex: g, type: 'value', min: yr[0], max: yr[1], axisLine: { show: false, onZero: false }, splitLine: { show: false },
    axisTick: { show: true, inside: true, length: 13, customValues: yTicks, lineStyle: tickStyle } };
  yAxes.push(Object.assign({}, yBase, { position: 'left', axisLabel: Object.assign({ show: true, customValues: yTicks, margin: 13, formatter: v => String(v) }, labelStyle) }));
  yAxes.push(Object.assign({}, yBase, { position: 'right', axisLabel: { show: false } }));
  return { xi: xi, yi: yi, yr: yr };
}
function addStrip(top, height) {
  const g = grids.length;
  grids.push({ left: 117, top: top, width: 1170, height: height, show: true, borderColor: '#000', borderWidth: 2, backgroundColor: 'transparent', z: 5, outerBoundsMode: 'none' });
  const xi = xAxes.length, yi = yAxes.length;
  xAxes.push({ gridIndex: g, type: 'value', min: 0, max: 162, show: false });
  yAxes.push({ gridIndex: g, type: 'value', min: 0, max: 1, show: false });
  return { xi: xi, yi: yi };
}
function addColorbar(top, height, max, ticks) {
  const g = grids.length;
  grids.push({ left: 1314, top: top, width: 75, height: height, show: true, borderColor: '#000', borderWidth: 2, backgroundColor: 'transparent', z: 5, outerBoundsMode: 'none' });
  xAxes.push({ gridIndex: g, type: 'value', min: 0, max: 1, show: false });
  yAxes.push({ gridIndex: g, type: 'value', min: 0, max: max, position: 'right', z: 6,
    axisLine: { show: false, onZero: false }, splitLine: { show: false },
    axisTick: { show: true, inside: true, length: 10, customValues: ticks, lineStyle: tickStyle },
    axisLabel: Object.assign({ show: true, customValues: ticks, margin: 8, formatter: v => String(v) }, labelStyle) });
  graphics.push({ type: 'rect', z: 1, silent: true, shape: { x: 1314, y: top, width: 75, height: height },
    style: { fill: new echarts.graphic.LinearGradient(0, 1, 0, 0, cbStops) } });
}

function bandSeries(ax, xs, lo, hi, color) {
  return { type: 'custom', xAxisIndex: ax.xi, yAxisIndex: ax.yi, coordinateSystem: 'cartesian2d', clip: true, silent: true, z: 2,
    data: [[xs[0], lo[0]]],
    renderItem: function (params, api) {
      const pts = [];
      for (let i = 0; i < xs.length; i++) pts.push(api.coord([xs[i], hi[i]]));
      for (let i = xs.length - 1; i >= 0; i--) pts.push(api.coord([xs[i], lo[i]]));
      return { type: 'polygon', shape: { points: pts }, style: { fill: color } };
    } };
}
function lineSeries(ax, name, xs, ys, color, width) {
  return { type: 'line', name: name, xAxisIndex: ax.xi, yAxisIndex: ax.yi, data: xs.map((x, i) => [x, ys[i]]),
    symbol: 'none', showSymbol: false, clip: true, silent: true, z: 3, lineStyle: { color: color, width: width } };
}
function eventSeries(ax) {
  eventX.forEach((x, k) => {
    const color = eventSide[k] === 'left' ? COL.step : COL.spin;
    const ph = eventPhase[k];
    const st = ph === 'heel' ? { width: 2.5, type: 'solid' } : ph === 'mid' ? { width: 1.8, type: [12, 4, 3, 4] } : { width: 1.4, type: [2, 3] };
    series.push({ type: 'line', xAxisIndex: ax.xi, yAxisIndex: ax.yi, data: [[x, ax.yr[0]], [x, ax.yr[1]]], symbol: 'none', clip: false, silent: true, z: 7,
      lineStyle: { color: color, width: st.width, type: st.type } });
  });
}
function stripSeries(ax, vals) {
  const data = [];
  vals.forEach((v, i) => { if (v !== null) data.push([i, v]); });
  series.push({ type: 'custom', xAxisIndex: ax.xi, yAxisIndex: ax.yi, coordinateSystem: 'cartesian2d', clip: true, silent: true, z: 2,
    data: data, encode: { x: 0, y: 1 },
    renderItem: function (params, api) {
      const x = api.value(0);
      const p0 = api.coord([x, 0]), p1 = api.coord([x + 1, 1]);
      return { type: 'rect', shape: { x: p0[0], y: p1[1], width: p1[0] - p0[0] + 0.6, height: p0[1] - p1[1] }, style: { fill: api.visual('color'), stroke: null } };
    } });
  return series.length - 1;
}

// top section
const topAx = addPlot(2, 659, TOP_Y, topYTicks);
const topBlackLo = topBlackMean.map((m, i) => m - topBlackSd[i]);
const topBlackHi = topBlackMean.map((m, i) => m + topBlackSd[i]);
series.push(bandSeries(topAx, topBlackX, topBlackLo, topBlackHi, BAND.black));
series.push(bandSeries(topAx, topStepX, topStepLo, topStepHi, BAND.step));
series.push(bandSeries(topAx, topSpinX, topSpinLo, topSpinHi, BAND.spin));
series.push(lineSeries(topAx, seriesNames[0], topBlackX, topBlackMean, COL.black, 3.2));
series.push(lineSeries(topAx, seriesNames[1], topStepX, topStepMean, COL.step, 2.2));
series.push(lineSeries(topAx, seriesNames[2], topSpinX, topSpinMean, COL.spin, 2.2));
eventSeries(topAx);
const topStripIdx = [];
[[769, 36, topStripA], [846, 36, topStripB], [922, 36, topStripC]].forEach((s, k) => {
  const ax = addStrip(s[0], s[1]);
  topStripIdx.push(stripSeries(ax, s[2]));
  graphics.push({ type: 'text', x: 90, y: s[0] + s[1] / 2, silent: true, style: { text: stripLabels[k], font: '18px ' + FONT, fill: '#000', align: 'center', verticalAlign: 'middle', textAlign: 'center', textVerticalAlign: 'middle' } });
});
addColorbar(2, 965, TOP_CB_MAX, topCbTicks);

// bottom section
const botAx = addPlot(1033, 658, BOT_Y, botYTicks);
const botBlackLo = botBlackMean.map((m, i) => m - botBlackSd[i]);
const botBlackHi = botBlackMean.map((m, i) => m + botBlackSd[i]);
series.push(bandSeries(botAx, botBlackX, botBlackLo, botBlackHi, BAND.black));
series.push(bandSeries(botAx, botStepX, botStepLo, botStepHi, BAND.step));
series.push(bandSeries(botAx, botSpinX, botSpinLo, botSpinHi, BAND.spin));
series.push(lineSeries(botAx, seriesNames[0], botBlackX, botBlackMean, COL.black, 3.2));
series.push(lineSeries(botAx, seriesNames[1], botStepX, botStepMean, COL.step, 2.2));
series.push(lineSeries(botAx, seriesNames[2], botSpinX, botSpinMean, COL.spin, 2.2));
eventSeries(botAx);
const botStripIdx = [];
[[1799, 37, botStripA], [1876, 37, botStripB], [1953, 36, botStripC]].forEach((s, k) => {
  const ax = addStrip(s[0], s[1]);
  botStripIdx.push(stripSeries(ax, s[2]));
  graphics.push({ type: 'text', x: 90, y: s[0] + s[1] / 2, silent: true, style: { text: stripLabels[k], font: '18px ' + FONT, fill: '#000', align: 'center', verticalAlign: 'middle', textAlign: 'center', textVerticalAlign: 'middle' } });
});
addColorbar(1033, 965, BOT_CB_MAX, botCbTicks);

// y-axis titles (rotated)
function vText(x, y, text, size) {
  graphics.push({ type: 'text', x: x, y: y, rotation: Math.PI / 2, silent: true,
    style: { text: text, font: size + 'px ' + FONT, fill: '#000', align: 'center', verticalAlign: 'middle', textAlign: 'center', textVerticalAlign: 'middle' } });
}
vText(11, 383, 'MoS', 26); vText(34, 329, 'A', 18); vText(17, 288, '(m)', 26);
vText(28, 1415, 'MoS', 26); vText(47, 1358, 'P', 18); vText(34, 1318, '(m)', 26);

// legend box
graphics.push({ type: 'rect', silent: true, z: 10, shape: { x: 192, y: 2036, width: 1049, height: 348 }, style: { fill: null, stroke: '#000', lineWidth: 2 } });
const legendColors = [COL.black, COL.step, COL.spin];
const legendY = [2093, 2166, 2239];
const LFONT = '38px ' + FONT;
seriesNames.forEach((nm, k) => {
  graphics.push({ type: 'line', silent: true, z: 10, shape: { x1: 206, y1: legendY[k], x2: 285, y2: legendY[k] }, style: { stroke: legendColors[k], lineWidth: 3 } });
  graphics.push({ type: 'text', silent: true, z: 10, x: 311, y: legendY[k] + 5, style: { text: nm, font: LFONT, fill: '#000', align: 'left', verticalAlign: 'middle', textAlign: 'left', textVerticalAlign: 'middle' } });
});
const evLegend = [
  { x: 625, y1: 2054, y2: 2133, c: COL.step, dash: null, tx: 652, ty: 2099, w: 2.2 },
  { x: 625, y1: 2170, y2: 2250, c: COL.step, dash: [12, 5, 3, 5], tx: 652, ty: 2215, w: 2 },
  { x: 623, y1: 2290, y2: 2370, c: COL.step, dash: [14, 8], tx: 650, ty: 2332, w: 2 },
  { x: 934, y1: 2054, y2: 2133, c: COL.spin, dash: null, tx: 960, ty: 2099, w: 2.2 },
  { x: 934, y1: 2174, y2: 2253, c: COL.spin, dash: [12, 5, 3, 5], tx: 960, ty: 2217, w: 2 },
  { x: 936, y1: 2287, y2: 2367, c: COL.spin, dash: [14, 8], tx: 964, ty: 2330, w: 2 }
];
evLegend.forEach((e, k) => {
  graphics.push({ type: 'line', silent: true, z: 10, shape: { x1: e.x, y1: e.y1, x2: e.x, y2: e.y2 }, style: { stroke: e.c, lineWidth: e.w, lineDash: e.dash } });
  graphics.push({ type: 'text', silent: true, z: 10, x: e.tx, y: e.ty, style: { text: eventNames[k], font: LFONT, fill: '#000', align: 'left', verticalAlign: 'middle', textAlign: 'left', textVerticalAlign: 'middle' } });
});

const chart = echarts.init(document.getElementById('c'), null, { renderer: 'canvas', width: 1427, height: 2387 });
chart.setOption({
  animation: false,
  backgroundColor: '#ffffff',
  grid: grids,
  xAxis: xAxes,
  yAxis: yAxes,
  visualMap: [
    { type: 'continuous', show: false, min: 0, max: TOP_CB_MAX, dimension: 1, seriesIndex: topStripIdx, inRange: { color: jet } },
    { type: 'continuous', show: false, min: 0, max: BOT_CB_MAX, dimension: 1, seriesIndex: botStripIdx, inRange: { color: jet } }
  ],
  graphic: { elements: graphics },
  series: series
});
</script>
</body>
</html>
